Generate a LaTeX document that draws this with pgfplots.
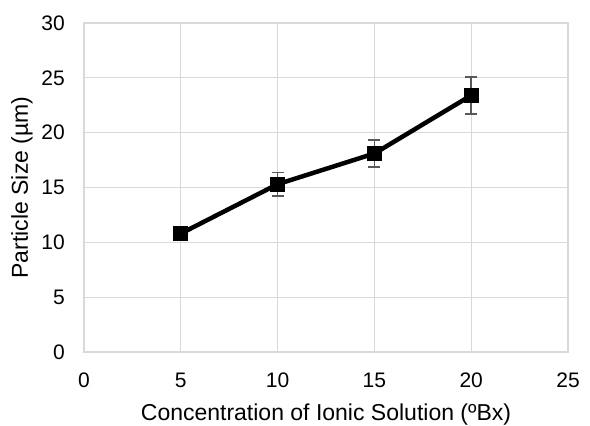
\documentclass[border=0pt]{standalone}
\usepackage{pgfplots}
\pgfplotsset{compat=1.18}
\usepackage{fontspec}
\setmainfont{Liberation Sans}
\definecolor{gridgray}{RGB}{217,217,217}
\definecolor{errgray}{RGB}{89,89,89}
\begin{document}
\begin{tikzpicture}
\begin{axis}[
  scale only axis, width=484bp, height=329bp,
  xmin=0, xmax=25, ymin=0, ymax=30,
  xtick={0,5,...,25}, ytick={0,5,...,30},
  grid=major, major grid style={gridgray, line width=1.2bp},
  axis line style={gridgray, line width=1.2bp},
  tick style={draw=none},
  /pgf/number format/assume math mode=true,
  tick label style={font=\fontsize{21bp}{25bp}\selectfont, inner sep=0pt},
  xticklabel style={anchor=north, yshift=-21bp},
  yticklabel style={anchor=east, xshift=-19bp},
  label style={font=\fontsize{23bp}{27bp}\selectfont, inner sep=0pt},
  xlabel={Concentration of Ionic Solution (ºBx)},
  ylabel={Particle Size (µm)},
  xlabel style={at={(axis description cs:0.5,-0.2067)}, anchor=base},
  ylabel style={at={(axis description cs:-0.128,0.5)}, anchor=center},
  clip=false,
]
\addplot[black, line width=4.5bp, mark=square*, mark size=7bp,
  mark options={line width=1bp, rounded corners=2bp},
  error bars/.cd, y dir=both, y explicit,
  error bar style={errgray, line width=1.6bp},
  error mark options={rotate=90, mark size=6bp, errgray, line width=1.6bp}]
  coordinates {
  (5,10.8) +- (0,0.5)
  (10,15.3) +- (0,1.05)
  (15,18.1) +- (0,1.25)
  (20,23.4) +- (0,1.7)
  };
\end{axis}
\path ([xshift=-84bp,yshift=-74bp]current axis.south west) rectangle ([xshift=22bp,yshift=23bp]current axis.north east);
\end{tikzpicture}
\end{document}
